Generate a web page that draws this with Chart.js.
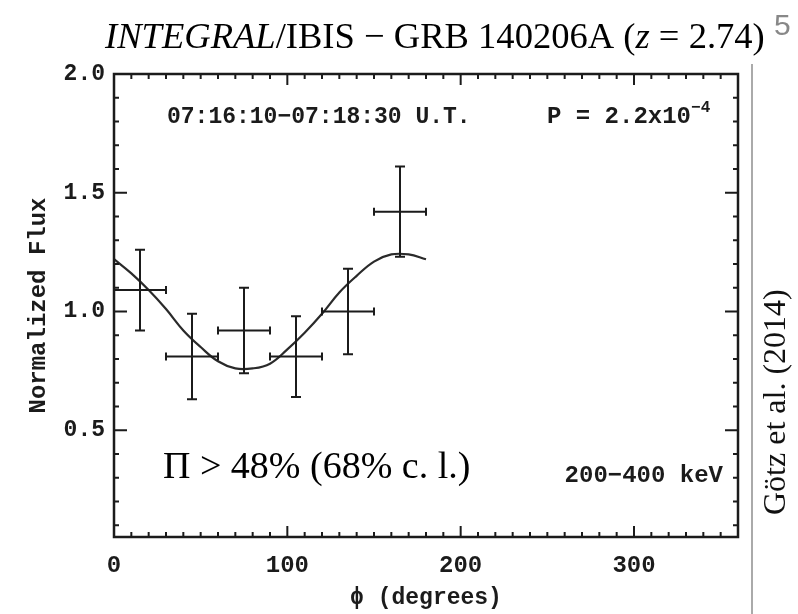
<!DOCTYPE html>
<html>
<head>
<meta charset="utf-8">
<script src="https://cdn.jsdelivr.net/npm/chart.js@4"></script>
<style>
  html, body { margin: 0; padding: 0; background: #fff; }
  #polar_chart { display: block; }
</style>
</head>
<body>
<canvas id="polar_chart" width="798" height="614"></canvas>
<script>
// binned polarimetry data (phi bin centres, half widths, normalized flux, errors)
const phiBins = [15, 45, 75, 105, 135, 165]
const phiHalfWidth = [15, 15, 15, 15, 15, 15]
const fluxValues = [1.09, 0.81, 0.92, 0.81, 1.00, 1.42]
const fluxErrors = [0.17, 0.18, 0.18, 0.17, 0.18, 0.19]

// model curve
const modelPhi = [0, 10, 20, 30, 40, 50, 60, 70, 80, 90, 100, 110, 120, 130, 140, 150, 160, 170, 180]
const modelFlux = [1.22, 1.16, 1.09, 1.01, 0.92, 0.85, 0.79, 0.76, 0.76, 0.78, 0.84, 0.91, 0.99, 1.08, 1.15, 1.21, 1.24, 1.24, 1.22]

const xTickLabels = [0, 100, 200, 300]
const yTickLabels = [0.5, 1.0, 1.5, 2.0]

const ink = "#1b1b1b"
const monoFont = "'Liberation Mono', 'DejaVu Sans Mono', monospace"
const serifFont = "'Liberation Serif', 'DejaVu Serif', serif"

function drawTicks(ctx, area, xs, ys){
  ctx.save()
  ctx.strokeStyle = ink
  ctx.lineWidth = 2
  ctx.beginPath()
  for (let v = 0; v <= 360; v += 10){
    let px = xs.getPixelForValue(v)
    let len = (v % 100 == 0) ? 11 : 5
    ctx.moveTo(px, area.bottom); ctx.lineTo(px, area.bottom - len)
    ctx.moveTo(px, area.top); ctx.lineTo(px, area.top + len)
  }
  for (let k = 1; k <= 20; k++){
    let v = k / 10
    let py = ys.getPixelForValue(v)
    let len = (k % 5 == 0) ? 13 : 5
    ctx.moveTo(area.left, py); ctx.lineTo(area.left + len, py)
    ctx.moveTo(area.right, py); ctx.lineTo(area.right - len, py)
  }
  ctx.stroke()
  ctx.lineWidth = 2.5
  ctx.strokeRect(area.left, area.top, area.right - area.left, area.bottom - area.top)
  ctx.restore()
}

function drawErrorBars(ctx, xs, ys){
  ctx.save()
  ctx.strokeStyle = ink
  ctx.lineWidth = 2
  ctx.beginPath()
  for (let i = 0; i < phiBins.length; i++){
    let x0 = xs.getPixelForValue(phiBins[i] - phiHalfWidth[i])
    let x1 = xs.getPixelForValue(phiBins[i] + phiHalfWidth[i])
    let xc = xs.getPixelForValue(phiBins[i])
    let yc = ys.getPixelForValue(fluxValues[i])
    let y0 = ys.getPixelForValue(fluxValues[i] - fluxErrors[i])
    let y1 = ys.getPixelForValue(fluxValues[i] + fluxErrors[i])
    ctx.moveTo(x0, yc); ctx.lineTo(x1, yc)
    ctx.moveTo(xc, y0); ctx.lineTo(xc, y1)
    // caps
    ctx.moveTo(xc - 5, y0); ctx.lineTo(xc + 5, y0)
    ctx.moveTo(xc - 5, y1); ctx.lineTo(xc + 5, y1)
    ctx.moveTo(x0, yc - 4); ctx.lineTo(x0, yc + 4)
    ctx.moveTo(x1, yc - 4); ctx.lineTo(x1, yc + 4)
  }
  ctx.stroke()
  ctx.restore()
}

function drawTexts(ctx){
  ctx.save()
  ctx.fillStyle = "#000"
  ctx.textBaseline = "alphabetic"
  // title with italic parts, sized to span 105..765
  let parts = [["INTEGRAL", "italic"], ["/IBIS \u2212 GRB 140206A (", "normal"], ["z", "italic"], [" = 2.74)", "normal"]]
  let total = 0
  parts.forEach(p => {
    ctx.font = p[1] + " 36px " + serifFont
    total += ctx.measureText(p[0]).width
  })
  let size = 36 * 660 / total
  let x = 105
  parts.forEach(p => {
    ctx.font = p[1] + " " + size + "px " + serifFont
    ctx.fillText(p[0], x, 48)
    x += ctx.measureText(p[0]).width
  })
  ctx.fillStyle = "#888"
  ctx.font = "30px 'Liberation Sans', sans-serif"
  ctx.fillText("5", 774, 35)

  // right side credit
  ctx.strokeStyle = "#aaa"
  ctx.lineWidth = 2
  ctx.beginPath(); ctx.moveTo(752, 64); ctx.lineTo(752, 614); ctx.stroke()
  ctx.save()
  ctx.translate(785, 515)
  ctx.rotate(-Math.PI / 2)
  ctx.fillStyle = "#111"
  ctx.font = "32px " + serifFont
  ctx.fillText("G\u00f6tz et al. (2014)", 0, 0)
  ctx.restore()

  // annotations inside the frame
  ctx.fillStyle = ink
  ctx.font = "bold 23px " + monoFont
  ctx.fillText("07:16:10\u221207:18:30 U.T.", 167, 123)
  ctx.font = "bold 24px " + monoFont
  ctx.fillText("P = 2.2x10", 547, 123)
  let pw = ctx.measureText("P = 2.2x10").width
  ctx.font = "bold 16px " + monoFont
  ctx.fillText("\u22124", 547 + pw, 112)
  ctx.font = "bold 24px " + monoFont
  ctx.textAlign = "right"
  ctx.fillText("200\u2212400 keV", 723, 482)
  ctx.textAlign = "left"
  ctx.fillStyle = "#000"
  ctx.font = "38px " + serifFont
  ctx.fillText("\u03a0 > 48% (68% c. l.)", 163, 478)
  ctx.restore()
}

const framePlugin = {
  id: "frame_plugin",
  afterDatasetsDraw(chart){
    let ctx = chart.ctx
    drawTicks(ctx, chart.chartArea, chart.scales.x, chart.scales.y)
    drawErrorBars(ctx, chart.scales.x, chart.scales.y)
  },
  afterDraw(chart){
    drawTexts(chart.ctx)
  }
}

function make_points(xArr, yArr){
  return xArr.map((v, i) => ({x: v, y: yArr[i]}))
}

const node = document.getElementById("polar_chart").getContext("2d")

const polarChart = new Chart(node, {
  type: "scatter",
  data: {
    datasets: [
      {
        label: "model",
        data: make_points(modelPhi, modelFlux),
        showLine: true,
        borderColor: "#2a2a2a",
        borderWidth: 2.2,
        pointRadius: 0,
        tension: 0.4,
        fill: false
      },
      {
        label: "flux",
        data: make_points(phiBins, fluxValues),
        pointRadius: 0,
        showLine: false
      }
    ]
  },
  options: {
    responsive: false,
    animation: false,
    devicePixelRatio: 1,
    layout: { padding: { top: 74, right: 60, left: 0, bottom: 0 } },
    plugins: { legend: { display: false }, tooltip: { enabled: false } },
    scales: {
      x: {
        type: "linear",
        min: 0,
        max: 360,
        afterFit: s => { s.height = 77 },
        afterBuildTicks: s => { s.ticks = xTickLabels.map(v => ({value: v})) },
        grid: { display: false, drawTicks: false },
        border: { display: false },
        ticks: {
          color: ink,
          font: { family: monoFont, size: 24, weight: "bold" },
          padding: 15,
          maxRotation: 0,
          autoSkip: false
        },
        title: {
          display: true,
          text: "\u03d5 (degrees)",
          color: ink,
          font: { family: monoFont, size: 23, weight: "bold" },
          padding: { top: 0, bottom: 2 }
        }
      },
      y: {
        type: "linear",
        min: 0.05,
        max: 2.0,
        afterFit: s => { s.width = 114 },
        afterBuildTicks: s => { s.ticks = yTickLabels.map(v => ({value: v})) },
        grid: { display: false, drawTicks: false },
        border: { display: false },
        ticks: {
          color: ink,
          font: { family: monoFont, size: 23, weight: "bold" },
          padding: 9,
          callback: v => Number(v).toFixed(1)
        },
        title: {
          display: true,
          text: "Normalized Flux",
          color: ink,
          font: { family: monoFont, size: 24, weight: "bold" },
          padding: { top: 25, bottom: 0 }
        }
      }
    }
  },
  plugins: [framePlugin]
})
</script>
</body>
</html>
